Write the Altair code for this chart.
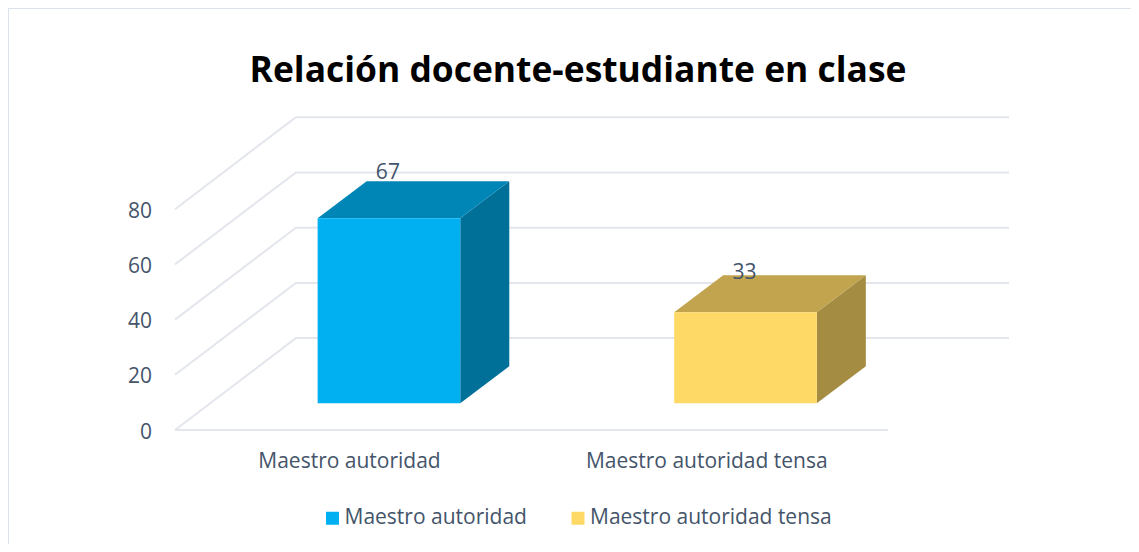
import altair as alt
import pandas as pd

TITLE = "Relación docente-estudiante en clase"
CATEGORIES = ["Maestro autoridad", "Maestro autoridad tensa"]
VALUES = [67, 33]
GRID_VALUES = [0, 20, 40, 60, 80]
FRONT_COLORS = ["#00b0f0", "#ffd966"]
TOP_COLORS = ["#0086b6", "#c1a44d"]
SIDE_COLORS = ["#007099", "#a48c42"]
LABEL_LIFT = [2.9, 0.7]

TEXT = "#44546a"
GRID = "#e3e6ec"
FONT = "Open Sans"

# 3-D projection, in axis units (categories across, value units up)
X_MAX = 2.339
Y_MAX = 113.4
WALL_DX, WALL_DY = 0.339, 33.3
BAR_LEFT, BAR_W = 0.4, 0.4
BAR_BASE = 9.7
BAR_DX, BAR_DY = 0.1375, 13.4

grid_rows = []
for v in GRID_VALUES:
    pts = [(0, v), (WALL_DX, v + WALL_DY), (X_MAX, v + WALL_DY)]
    for k, (x, y) in enumerate(pts):
        grid_rows.append({"x": x, "y": y, "line": f"g{v}", "k": k})
for k, x in enumerate([0, 2]):
    grid_rows.append({"x": x, "y": 0, "line": "floor", "k": k})

front, side, top, labels = [], [], [], []
for i, (cat, val) in enumerate(zip(CATEGORIES, VALUES)):
    x0 = i + BAR_LEFT
    x1 = x0 + BAR_W
    y0 = BAR_BASE
    y1 = BAR_BASE + val
    front.append({"cat": cat, "x": x0, "x2": x1, "y": y0, "y2": y1})
    side += [
        {"fill": SIDE_COLORS[i], "x": x1, "y": y0, "y2": y1},
        {"fill": SIDE_COLORS[i], "x": x1 + BAR_DX, "y": y0 + BAR_DY, "y2": y1 + BAR_DY},
    ]
    top += [
        {"fill": TOP_COLORS[i], "y": y1, "x": x0, "x2": x1},
        {"fill": TOP_COLORS[i], "y": y1 + BAR_DY, "x": x0 + BAR_DX, "x2": x1 + BAR_DX},
    ]
    labels.append({"x": x0 + BAR_W / 2 - 0.003, "y": y1 + BAR_DY + LABEL_LIFT[i], "label": str(val)})

x_axis = alt.Axis(
    values=[0.488, 1.49],
    labelExpr=f"datum.value < 1 ? '{CATEGORIES[0]}' : '{CATEGORIES[1]}'",
    title=None, domain=False, ticks=False, grid=False,
    labelFont=FONT, labelFontSize=21, labelColor=TEXT, labelPadding=20,
    labelOverlap=False, labelFlush=False, labelLimit=500,
)
y_axis = alt.Axis(
    values=GRID_VALUES, title=None, domain=False, ticks=False, grid=False,
    labelFont=FONT, labelFontSize=21, labelColor=TEXT, labelPadding=23.5,
    labelOffset=2, labelOverlap=False, labelFlush=False,
)
X = alt.X("x:Q", scale=alt.Scale(domain=[0, X_MAX], nice=False, zero=False), axis=x_axis)
Y = alt.Y("y:Q", scale=alt.Scale(domain=[0, Y_MAX], nice=False, zero=False), axis=y_axis)

grid = alt.Chart(pd.DataFrame(grid_rows)).mark_line(color=GRID, strokeWidth=2).encode(
    x=X, y=Y, detail="line:N", order="k:Q",
)

side_l = alt.Chart(pd.DataFrame(side)).mark_area(orient="vertical").encode(
    x=X, y=Y, y2="y2:Q", fill=alt.Fill("fill:N", scale=None),
)

top_l = alt.Chart(pd.DataFrame(top)).mark_area(orient="horizontal").encode(
    y=Y, x=X, x2="x2:Q", fill=alt.Fill("fill:N", scale=None),
)

front_l = alt.Chart(pd.DataFrame(front)).mark_rect().encode(
    x=X, x2="x2:Q", y=Y, y2="y2:Q",
    fill=alt.Fill(
        "cat:N",
        scale=alt.Scale(domain=CATEGORIES, range=FRONT_COLORS),
        legend=alt.Legend(
            title=None, orient="none", legendX=147, legendY=390.5, direction="horizontal",
            symbolType="square", symbolSize=169, symbolStrokeWidth=0,
            labelFont=FONT, labelFontSize=21, labelColor=TEXT, labelOffset=1.5,
            columnPadding=40.5, labelLimit=400,
        ),
    ),
)

text_l = alt.Chart(pd.DataFrame(labels)).mark_text(
    font=FONT, fontSize=21, color=TEXT, baseline="middle"
).encode(x=X, y=Y, text="label:N")

frame = pd.DataFrame({"k": [0]})
left_rule = alt.Chart(frame).mark_rule(color="#dde3ea", strokeWidth=2).encode(
    x=alt.value(-167), y=alt.value(-109), y2=alt.value(427)
)
top_rule = alt.Chart(frame).mark_rule(color="#dde3ea", strokeWidth=2).encode(
    y=alt.value(-109), x=alt.value(-167), x2=alt.value(956)
)

chart = alt.layer(left_rule, top_rule, grid, side_l, top_l, front_l, text_l).properties(
    width=834,
    height=313,
    autosize=alt.AutoSizeParams(type="none"),
    padding={"left": 167, "top": 109, "right": 122, "bottom": 114},
    title=alt.TitleParams(
        TITLE, font=FONT, fontSize=35.4, fontWeight="bold", color="#000000",
        anchor="middle", dx=-14, offset=-110, baseline="alphabetic",
    ),
).configure_view(stroke=None)

chart.save("out.html", embed_options={"renderer": "svg", "actions": False})
